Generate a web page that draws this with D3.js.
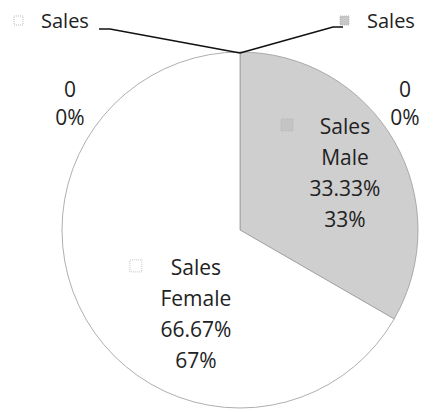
<!DOCTYPE html>
<html>
<head>
<meta charset="utf-8">
<script src="https://cdn.jsdelivr.net/npm/d3@7"></script>
<style>
  body { margin: 0; background: #fff; }
  text { font-family: "Open Sans", "Noto Sans", sans-serif; fill: #222; }
</style>
</head>
<body>
<script>
// data
const categories = ["Male", "Female"]
const seriesName = "Sales"
const values = [33.33, 66.67]
const pctLabels = ["33%", "67%"]
const zeroLabels = ["0", "0%"]

const width = 435
const height = 412
const cx = 240, cy = 230, r = 178
const fills = ["#cfcfcf", "#ffffff"]

const svg = d3.select("body").append("svg")
  .attr("width", width)
  .attr("height", height)

const g = svg.append("g").attr("transform", `translate(${cx},${cy})`)

const pie = d3.pie().sort(null).value(d => d)
const arcs = pie(values)
const arc = d3.arc().innerRadius(0).outerRadius(r)

g.selectAll("path.slice")
  .data(arcs)
  .enter()
  .append("path")
  .attr("class", "slice")
  .attr("d", arc)
  .attr("fill", (d, i) => fills[i])
  .attr("stroke", "#9a9a9a")
  .attr("stroke-width", 0.8)

// labels inside slices (Excel pushes them a bit off the centroid)
const labelRad = [0.67, 0.535]
const angleShift = [0.03, -0.565]
const lineH = 31

arcs.forEach((a, i) => {
  const mid = (a.startAngle + a.endAngle) / 2 + angleShift[i]
  const la = d3.arc().innerRadius(r * labelRad[i]).outerRadius(r * labelRad[i])
  const p = la.centroid({ startAngle: mid, endAngle: mid })
  const lines = [seriesName, categories[i], values[i].toFixed(2) + "%", pctLabels[i]]
  const t = g.append("text")
    .attr("text-anchor", "middle")
    .attr("font-size", 21)
  lines.forEach((s, k) => {
    t.append("tspan")
      .attr("x", p[0])
      .attr("y", p[1] - 1.5 * lineH + k * lineH + 7)
      .text(s)
  })
  // small legend key in front of first line
  g.append("rect")
    .attr("x", p[0] - (i == 0 ? 64 : 66))
    .attr("y", p[1] - 1.5 * lineH - 8)
    .attr("width", 12)
    .attr("height", 12)
    .attr("fill", i == 0 ? "#c4c4c4" : "#fff")
    .attr("stroke", "#b5b5b5")
    .attr("stroke-dasharray", "1,1")
    .attr("stroke-width", 0.8)
})

// zero-value points with their leader lines
const sides = [-1, 1]
sides.forEach((s, i) => {
  const lx = s < 0 ? 41 : 367
  svg.append("text")
    .attr("x", lx)
    .attr("y", 28)
    .attr("font-size", 20)
    .text(seriesName)
  svg.append("rect")
    .attr("x", lx - 27)
    .attr("y", 16)
    .attr("width", 9)
    .attr("height", 9)
    .attr("fill", s < 0 ? "#fff" : "#c8c8c8")
    .attr("stroke", "#aaa")
    .attr("stroke-dasharray", "1,1")
    .attr("stroke-width", 0.8)
  const pts = s < 0
    ? [[99, 29], [110, 29], [cx, cy - r + 1]]
    : [[cx, cy - r + 1], [333, 27], [343, 27]]
  svg.append("path")
    .attr("d", d3.line()(pts))
    .attr("fill", "none")
    .attr("stroke", "#111")
    .attr("stroke-width", 1.6)

  const zx = s < 0 ? 70 : 405
  const zt = svg.append("text").attr("text-anchor", "middle").attr("font-size", 21)
  zeroLabels.forEach((z, k) => {
    zt.append("tspan").attr("x", zx).attr("y", 97 + k * 28).text(z)
  })
})
</script>
</body>
</html>
